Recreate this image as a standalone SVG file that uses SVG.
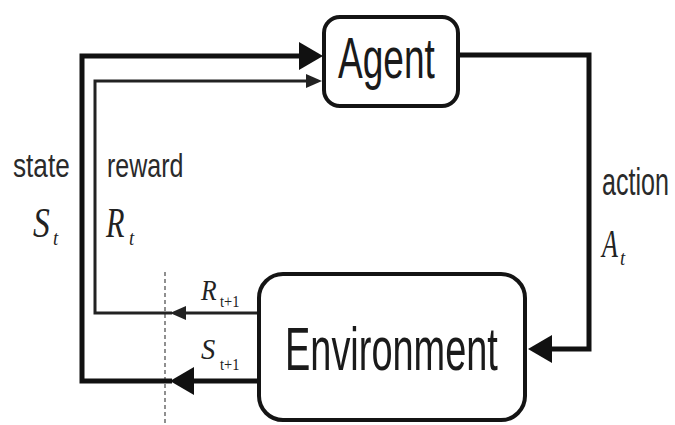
<svg xmlns="http://www.w3.org/2000/svg" width="675" height="425" viewBox="0 0 675 425">
<style>
.box{fill:#fff;stroke:#141414;stroke-width:4}
.name{font-family:"Liberation Sans",Arial,sans-serif;fill:#1a1a1a}
.lbl{font-family:"Liberation Sans",Arial,sans-serif;fill:#2a2a2a}
.math{font-family:"Liberation Serif","Times New Roman",serif;font-style:italic;fill:#222}
.sub{font-family:"Liberation Serif","Times New Roman",serif;fill:#222}
.thick{fill:none;stroke:#111;stroke-width:5;stroke-linejoin:miter}
.thin{fill:none;stroke:#222;stroke-width:3;stroke-linejoin:miter}
.dash{fill:none;stroke:#555;stroke-width:1.3;stroke-dasharray:4 3}
</style>
<defs>
<marker id="big" markerUnits="userSpaceOnUse" markerWidth="26" markerHeight="32" refX="0" refY="16" orient="auto" overflow="visible">
<path d="M0,2 L24,16 L0,30 Z" fill="#111"/>
</marker>
<marker id="small" markerUnits="userSpaceOnUse" markerWidth="18" markerHeight="16" refX="0" refY="8" orient="auto" overflow="visible">
<path d="M0,1 L16,8 L0,15 Z" fill="#222"/>
</marker>
</defs>
<g id="connectors">
<path class="dash" d="M165,272 V425"/>
<path class="thick" d="M172,381 H82 V56 H299" marker-end="url(#big)"/>
<path class="thin" d="M172,313 H95 V81 H306" marker-end="url(#small)"/>
<path class="thick" d="M257,381 H194" marker-end="url(#big)"/>
<path class="thin" d="M257,313 H186" marker-end="url(#small)"/>
<path class="thick" d="M460,55 H589 V349 H552" marker-end="url(#big)"/>
</g>
<g id="agent">
<rect class="box" x="324" y="17" width="134" height="89" rx="16"/>
<text class="name" transform="translate(338,78) scale(0.65,1)" font-size="57">Agent</text>
</g>
<g id="environment">
<rect class="box" x="259" y="274" width="266" height="146" rx="24"/>
<text class="name" transform="translate(285,370) scale(0.612,1)" font-size="62">Environment</text>
</g>
<g id="labels">
<text class="lbl" transform="translate(13,177) scale(0.77,1)" font-size="34">state</text>
<text class="math" transform="translate(33,237) scale(0.8,1)" font-size="42">S</text>
<text class="math" transform="translate(53,245) scale(0.85,1)" font-size="22">t</text>
<text class="lbl" transform="translate(107,177) scale(0.735,1)" font-size="34">reward</text>
<text class="math" transform="translate(106,237) scale(0.72,1)" font-size="42">R</text>
<text class="math" transform="translate(129,245) scale(0.85,1)" font-size="22">t</text>
<text class="lbl" transform="translate(602,195) scale(0.66,1)" font-size="38">action</text>
<text class="math" transform="translate(602,257) scale(0.65,1)" font-size="40">A</text>
<text class="math" transform="translate(620,265) scale(0.85,1)" font-size="22">t</text>
<text class="math" transform="translate(201,300) scale(0.85,1)" font-size="30">R</text>
<text class="sub" transform="translate(220,307) scale(0.85,1)" font-size="17">t+1</text>
<text class="math" transform="translate(201,359) scale(0.95,1)" font-size="30">S</text>
<text class="sub" transform="translate(220,370) scale(0.85,1)" font-size="17">t+1</text>
</g>
</svg>
